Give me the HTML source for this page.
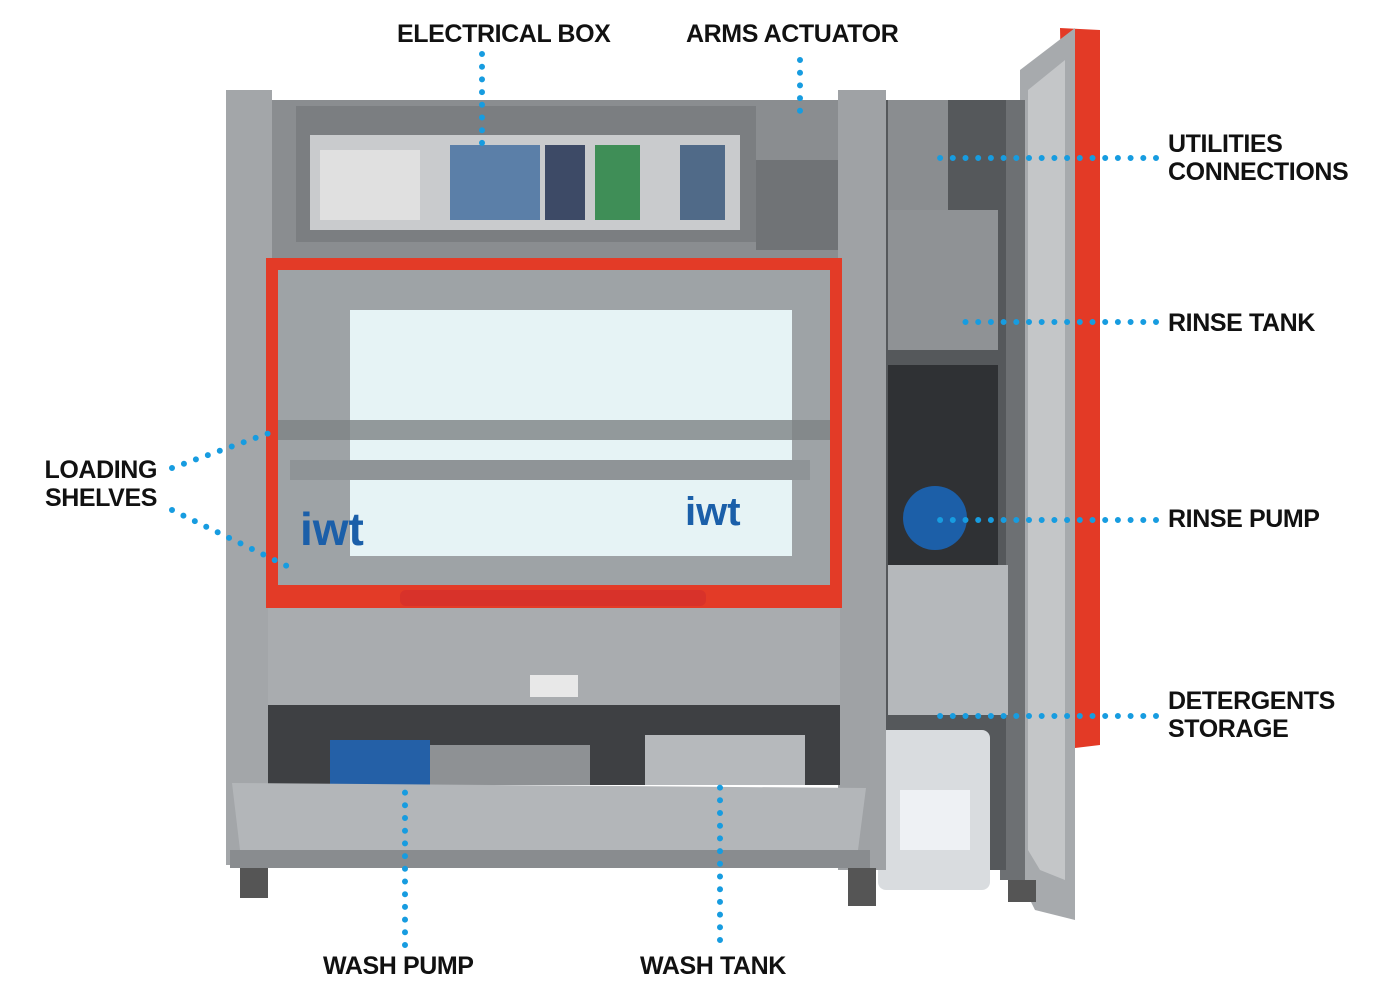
<!DOCTYPE html>
<html><head><meta charset="utf-8"><style>
body{margin:0;background:#fff;width:1400px;height:990px;position:relative;overflow:hidden;font-family:"Liberation Sans",sans-serif}
.a{position:absolute}
.l{position:absolute;font-weight:bold;font-size:25px;letter-spacing:-0.4px;color:#111;line-height:28px;white-space:nowrap}
</style></head><body>
<svg class="a" style="left:0;top:0" width="1400" height="990">
<polygon points="1060,28 1100,30 1100,745 1075,748" fill="#e33a26"/>
<polygon points="1020,70 1075,28 1075,920 1035,910 1020,880" fill="#a7aaad"/>
<polygon points="1028,90 1065,60 1065,880 1040,870 1028,850" fill="#c4c6c8"/>
<rect x="1000" y="100" width="25" height="780" fill="#6d7073"/>
<rect x="886" y="100" width="120" height="770" fill="#55585b"/>
<rect x="888" y="100" width="60" height="110" fill="#8a8d90"/>
<rect x="888" y="210" width="110" height="140" fill="#8f9295"/>
<rect x="888" y="365" width="110" height="200" fill="#2f3134"/>
<circle cx="935" cy="518" r="32" fill="#1c5fa8"/>
<rect x="888" y="565" width="120" height="150" fill="#b5b8bb"/>
<rect x="878" y="730" width="112" height="160" rx="8" fill="#d9dcdf"/>
<rect x="900" y="790" width="70" height="60" fill="#eef1f4"/>
<rect x="226" y="90" width="46" height="775" fill="#a3a6a9"/>
<rect x="838" y="90" width="48" height="780" fill="#9fa2a5"/>
<rect x="272" y="100" width="566" height="160" fill="#8a8d90"/>
<rect x="296" y="106" width="460" height="136" fill="#7b7e81"/>
<rect x="310" y="135" width="430" height="95" fill="#c9cbcd"/>
<rect x="320" y="150" width="100" height="70" fill="#e0e0e0"/>
<rect x="450" y="145" width="90" height="75" fill="#5b7fa8"/>
<rect x="545" y="145" width="40" height="75" fill="#3d4a66"/>
<rect x="595" y="145" width="45" height="75" fill="#3f8e57"/>
<rect x="680" y="145" width="45" height="75" fill="#506a88"/>
<rect x="756" y="160" width="82" height="90" fill="#707376"/>
<rect x="266" y="258" width="576" height="350" fill="#e33b27"/>
<rect x="278" y="270" width="552" height="315" fill="#9ea3a6"/>
<rect x="350" y="310" width="442" height="246" fill="#e6f3f5"/>
<rect x="278" y="420" width="552" height="20" fill="#7d8285" opacity=".8"/>
<rect x="290" y="460" width="520" height="20" fill="#8f9497"/>
<text x="300" y="545" font-family="Liberation Sans" font-weight="bold" font-size="46" fill="#1b5fa9">iwt</text>
<text x="685" y="525" font-family="Liberation Sans" font-weight="bold" font-size="40" fill="#1b5fa9">iwt</text>
<rect x="400" y="590" width="306" height="16" rx="6" fill="#d8322a"/>
<rect x="268" y="608" width="572" height="97" fill="#a9acaf"/>
<rect x="530" y="675" width="48" height="22" fill="#e8e8e8"/>
<rect x="268" y="705" width="572" height="80" fill="#3e4043"/>
<rect x="330" y="740" width="100" height="45" fill="#2460a7"/>
<rect x="430" y="745" width="160" height="40" fill="#8e9194"/>
<rect x="645" y="735" width="160" height="50" fill="#b6b9bc"/>
<polygon points="232,783 866,788 858,850 240,850" fill="#b3b6b9"/>
<rect x="230" y="850" width="640" height="18" fill="#898c8f"/>
<rect x="240" y="868" width="28" height="30" fill="#555"/>
<rect x="848" y="868" width="28" height="38" fill="#555"/>
<rect x="1008" y="880" width="28" height="22" fill="#555"/>
<g stroke="#179ce0" stroke-width="6" stroke-linecap="round" stroke-dasharray="0 12.7" fill="none">
<line x1="482" y1="54" x2="482" y2="145"/>
<line x1="800" y1="60" x2="800" y2="120"/>
<line x1="1156" y1="158" x2="930" y2="158"/>
<line x1="1156" y1="322" x2="960" y2="322"/>
<line x1="1156" y1="520" x2="940" y2="520"/>
<line x1="1156" y1="716" x2="930" y2="716"/>
<line x1="172" y1="468" x2="272" y2="432"/>
<line x1="172" y1="510" x2="295" y2="570"/>
<line x1="405" y1="945" x2="405" y2="790"/>
<line x1="720" y1="940" x2="720" y2="775"/>
</g>
</svg>
<div class="l" style="left:397px;top:20px">ELECTRICAL BOX</div>
<div class="l" style="left:686px;top:20px">ARMS ACTUATOR</div>
<div class="l" style="left:1168px;top:130px">UTILITIES<br>CONNECTIONS</div>
<div class="l" style="left:1168px;top:309px">RINSE TANK</div>
<div class="l" style="left:1168px;top:505px">RINSE PUMP</div>
<div class="l" style="left:1168px;top:687px">DETERGENTS<br>STORAGE</div>
<div class="l" style="left:0;width:157px;text-align:right;top:456px">LOADING<br>SHELVES</div>
<div class="l" style="left:323px;top:952px">WASH PUMP</div>
<div class="l" style="left:640px;top:952px">WASH TANK</div>
</body></html>
